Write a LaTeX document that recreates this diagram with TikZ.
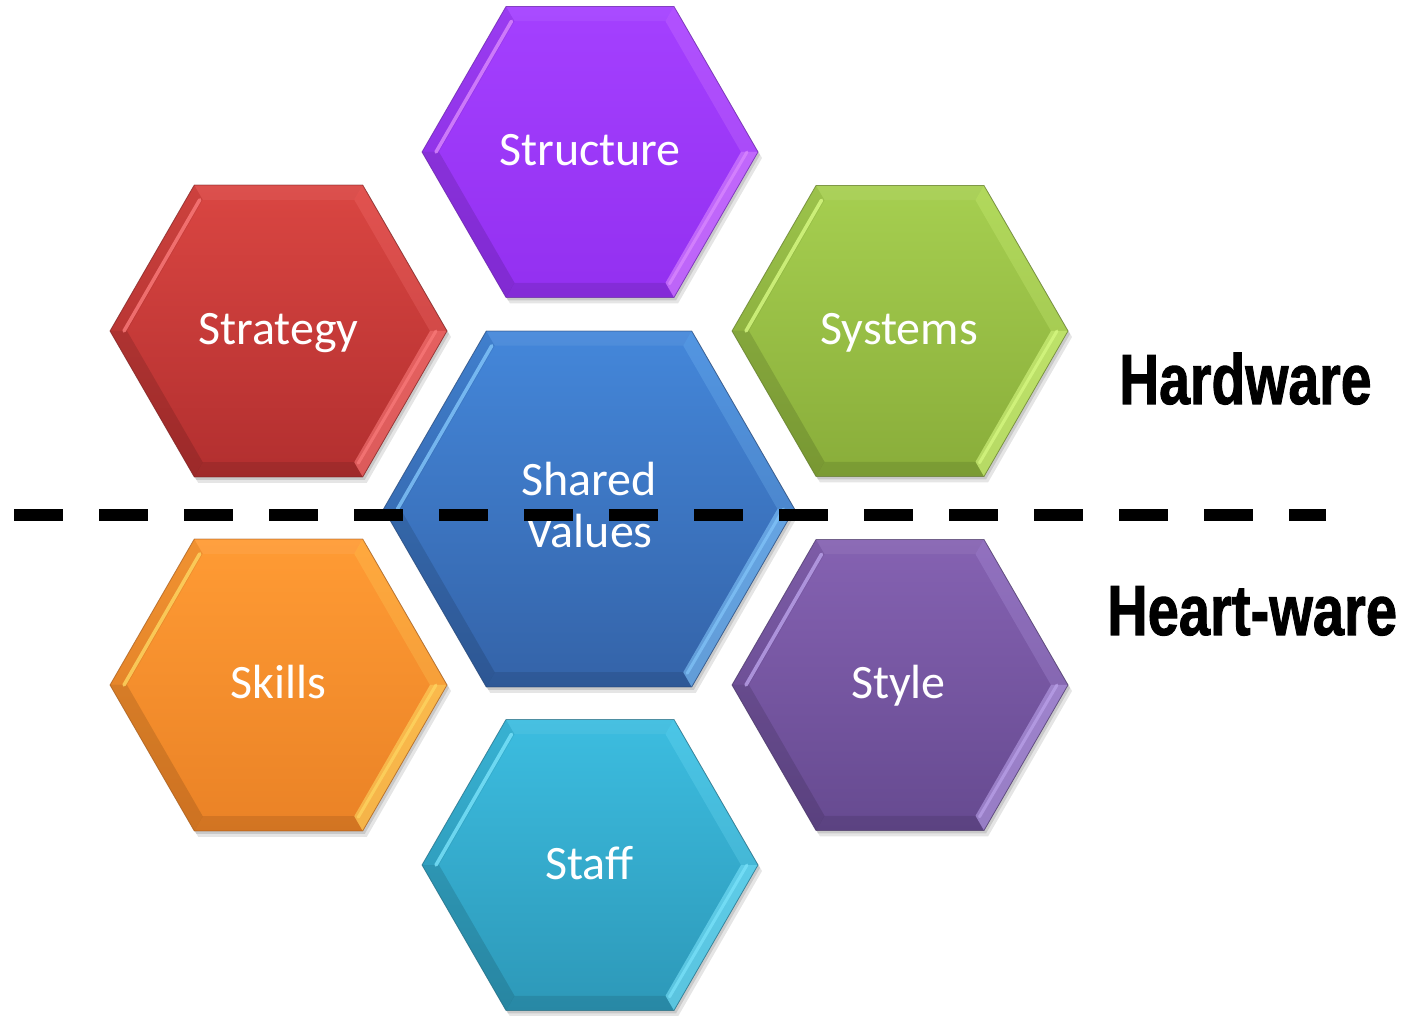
\documentclass[tikz,border=0pt]{standalone}
\usepackage{fontspec}
\setmainfont{Carlito}
\newfontfamily\headfont[FakeBold=1.5]{Liberation Sans Bold}
\usetikzlibrary{calc}

\definecolor{strucT}{HTML}{A440FF}\definecolor{strucB}{HTML}{9330F0}\definecolor{strucH}{HTML}{E090FF}
\definecolor{stratT}{HTML}{DA4642}\definecolor{stratB}{HTML}{B22F2F}\definecolor{stratH}{HTML}{FF8080}
\definecolor{systT}{HTML}{A6CF50}\definecolor{systB}{HTML}{89AD3A}\definecolor{systH}{HTML}{DDFF88}
\definecolor{sharT}{HTML}{4487DA}\definecolor{sharB}{HTML}{3463A8}\definecolor{sharH}{HTML}{88CCFF}
\definecolor{skilT}{HTML}{FF9B34}\definecolor{skilB}{HTML}{EA8226}\definecolor{skilH}{HTML}{FFDD66}
\definecolor{stylT}{HTML}{8562B2}\definecolor{stylB}{HTML}{664A90}\definecolor{stylH}{HTML}{C0A8F0}
\definecolor{stafT}{HTML}{3CBDE0}\definecolor{stafB}{HTML}{2D98B8}\definecolor{stafH}{HTML}{80E8FF}

\tikzset{
  hexlabel/.style={text=white, inner sep=0pt, font=\fontsize{48}{52}\selectfont},
  sidelabel/.style={text=black, inner sep=0pt, anchor=base west},
  dashline/.style={draw=black, line width=12pt, dash pattern=on 49pt off 36pt},
}

% #1 cx, #2 cy, #3 R, #4 top colour, #5 bottom colour, #6 highlight colour
\newcommand{\hexcell}[6]{%
\begin{scope}[shift={(#1,#2)}]
  \pgfmathsetmacro\Ro{#3}
  \pgfmathsetmacro\Ri{#3-17}
  \fill[black, opacity=.10] ([shift={(4,-6)}]0:\Ro) -- ([shift={(4,-6)}]60:\Ro) -- ([shift={(4,-6)}]120:\Ro) -- ([shift={(4,-6)}]180:\Ro) -- ([shift={(4,-6)}]240:\Ro) -- ([shift={(4,-6)}]300:\Ro) -- cycle;
  \fill[black, opacity=.12] ([shift={(2,-3)}]0:\Ro) -- ([shift={(2,-3)}]60:\Ro) -- ([shift={(2,-3)}]120:\Ro) -- ([shift={(2,-3)}]180:\Ro) -- ([shift={(2,-3)}]240:\Ro) -- ([shift={(2,-3)}]300:\Ro) -- cycle;
  \shade[top color=#4, bottom color=#5] (0:\Ro) -- (60:\Ro) -- (120:\Ro) -- (180:\Ro) -- (240:\Ro) -- (300:\Ro) -- cycle;
  % facets
  \fill[white, opacity=.06] (60:\Ro) -- (120:\Ro) -- (120:\Ri) -- (60:\Ri) -- cycle;
  \fill[black, opacity=.06] (120:\Ro) -- (180:\Ro) -- (180:\Ri) -- (120:\Ri) -- cycle;
  \fill[black, opacity=.12] (180:\Ro) -- (240:\Ro) -- (240:\Ri) -- (180:\Ri) -- cycle;
  \fill[black, opacity=.10] (240:\Ro) -- (300:\Ro) -- (300:\Ri) -- (240:\Ri) -- cycle;
  \fill[#6, opacity=.55] (300:\Ro) -- (0:\Ro) -- (0:\Ri) -- (300:\Ri) -- cycle;
  \fill[#6, opacity=.22] (0:\Ro) -- (60:\Ro) -- (60:\Ri) -- (0:\Ri) -- cycle;
  \draw[#6, opacity=.75, line width=3.5pt, line cap=round] ($(120:\Ri)+(-3,0)$) -- ($(180:\Ri)+(-3,0)$);
  \draw[#6, opacity=.6, line width=3pt, line cap=round] ($(300:\Ri)+(4,-1)$) -- ($(0:\Ri)+(6,0)$);
  \draw[#5!70!black, opacity=.7, line width=.8pt, line join=round] (0:\Ro) -- (60:\Ro) -- (120:\Ro) -- (180:\Ro) -- (240:\Ro) -- (300:\Ro) -- cycle;
\end{scope}}

\begin{document}
\begin{tikzpicture}[x=1pt, y=1pt]
\useasboundingbox (0,0) rectangle (1405,1015);

\hexcell{590}{863}{168}{strucT}{strucB}{strucH}
\hexcell{278.5}{684}{168.5}{stratT}{stratB}{stratH}
\hexcell{900}{684}{168}{systT}{systB}{systH}
\hexcell{589}{506}{205.5}{sharT}{sharB}{sharH}
\hexcell{278.5}{330}{168.5}{skilT}{skilB}{skilH}
\hexcell{900}{330}{168}{stylT}{stylB}{stylH}
\hexcell{590}{150}{168}{stafT}{stafB}{stafH}

\node[hexlabel, anchor=base] (structure) at (590,849) {Structure};
\node[hexlabel, anchor=base] (strategy) at (278.5,670) {Strategy};
\node[hexlabel, anchor=base] (systems) at (899,670) {Systems};
\node[hexlabel, anchor=base] (shared) at (589,519) {Shared};
\node[hexlabel, anchor=base] (values) at (589.5,467) {Values};
\node[hexlabel, anchor=base] (skills) at (278,316) {Skills};
\node[hexlabel, anchor=base] (style) at (898.5,316) {Style};
\node[hexlabel, anchor=base] (staff) at (589.5,136) {Staff};

\node[sidelabel] (hardware) at (1119,611) {\scalebox{0.78}[1]{\fontsize{71}{71}\headfont Hardware}};
\node[sidelabel] (heartware) at (1107,380) {\scalebox{0.79}[1]{\fontsize{71}{71}\headfont Heart-ware}};

\coordinate (dl) at (14,500);
\coordinate (dr) at (1326,500);
\draw[dashline] (dl) -- (dr);
\end{tikzpicture}
\end{document}
